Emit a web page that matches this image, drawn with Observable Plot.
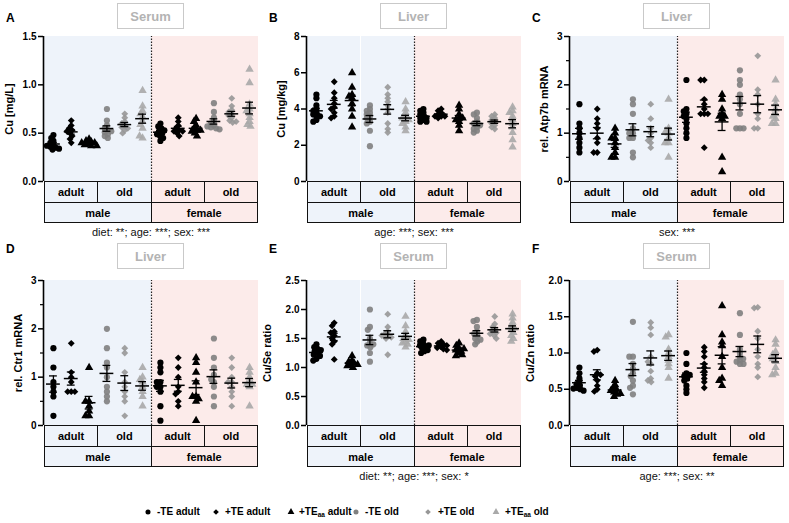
<!DOCTYPE html>
<html><head><meta charset="utf-8">
<script src="https://cdn.jsdelivr.net/npm/d3@7"></script>
<script src="https://cdn.jsdelivr.net/npm/@observablehq/plot@0.6"></script>
<style>
html,body{margin:0;padding:0;background:#fff}
body{width:789px;height:523px;position:relative;overflow:hidden;font-family:"Liberation Sans",Arial,Helvetica,sans-serif;color:#000}
.panel{position:absolute;width:263px;height:244px}
.letter{position:absolute;left:6px;font-weight:bold;font-size:12px;line-height:12px}
.tbox{position:absolute;width:65px;height:24px;border:1.5px solid #c9c9c9;color:#b3b3b3;font-weight:bold;font-size:13px;display:flex;align-items:center;justify-content:center}
.ylab{position:absolute;font-weight:bold;font-size:11px;line-height:12px;white-space:nowrap;transform:translate(-50%,-50%) rotate(-90deg)}
.svgwrap{position:absolute;left:0;top:28px}
table.grp{position:absolute;border-collapse:collapse;table-layout:fixed}
table.grp td{border:1.5px solid #111;text-align:center;font-weight:bold;font-size:11px;padding:0;line-height:12px}
.stats{position:absolute;font-size:11px;line-height:13px;transform:translateX(-50%);white-space:nowrap;color:#111}
.leg{position:absolute;top:506px;font-weight:bold;font-size:10px;line-height:12px;white-space:nowrap}
.leg sub{font-size:6.5px;line-height:0;vertical-align:-2px}
.legm{position:absolute;top:507px}
</style></head>
<body>
<script>
// ---------- categories ----------
const diets = ["-TE", "+TE", "+TEaa"];
const ages = ["adult", "old"];
const sexes = ["male", "female"];
const dietSymbols = ["circle", "diamond2", "triangle"];
const adultColor = "#000000";
const oldColors = ["#808080", "#979797", "#a9a9a9"];
const maleFill = "#eef3fa";
const femaleFill = "#fcebea";

// group order: male adult (-TE,+TE,+TEaa), male old, female adult, female old
// ---------- values ----------
const serumCu = [
  [0.48,0.45,0.42,0.40,0.38,0.36,0.35,0.34,0.33,0.37],
  [0.63,0.58,0.55,0.53,0.52,0.50,0.47,0.44,0.40],
  [0.44,0.42,0.41,0.40,0.39,0.38,0.37,0.37,0.40],
  [0.75,0.63,0.58,0.55,0.53,0.51,0.49,0.47,0.45,0.52],
  [0.70,0.66,0.62,0.60,0.58,0.56,0.53,0.50,0.55],
  [0.94,0.78,0.73,0.67,0.62,0.59,0.55,0.45,0.47,0.70],
  [0.60,0.57,0.55,0.52,0.50,0.49,0.47,0.45,0.42,0.53],
  [0.66,0.62,0.58,0.55,0.53,0.52,0.50,0.47,0.52],
  [0.65,0.62,0.58,0.55,0.53,0.52,0.50,0.47,0.53],
  [0.81,0.72,0.66,0.62,0.60,0.58,0.56,0.55,0.54,0.57],
  [0.86,0.78,0.74,0.72,0.70,0.68,0.66,0.63,0.61,0.62],
  [1.16,1.02,0.80,0.75,0.70,0.66,0.62,0.59,0.57,0.73]
];
const liverCu = [
  [4.8,4.6,4.2,4.0,3.9,3.8,3.7,3.6,3.4,3.3,3.6],
  [5.5,4.9,4.6,4.3,4.1,4.0,3.8,3.6,3.5],
  [6.0,5.2,4.8,4.6,4.7,4.3,4.0,3.6,3.0],
  [4.2,4.0,3.8,3.6,3.5,3.3,3.2,2.8,1.95,3.7,3.9],
  [5.2,4.8,4.6,4.4,4.2,4.0,3.8,3.2,2.9,2.7],
  [4.4,4.0,3.8,3.6,3.5,3.3,3.2,3.0,2.8,3.4],
  [4.0,3.9,3.8,3.7,3.6,3.5,3.5,3.4,3.3,3.3],
  [4.0,3.9,3.8,3.7,3.6,3.6,3.5,3.6],
  [4.2,4.0,3.7,3.5,3.4,3.3,3.1,2.8,3.5],
  [3.8,3.7,3.5,3.3,3.2,3.0,2.9,2.8,2.7,3.1],
  [3.7,3.6,3.5,3.4,3.3,3.2,3.1,3.0,2.9],
  [4.1,3.9,3.6,3.4,3.2,3.0,2.7,2.3,1.9,3.8]
];
const atp7b = [
  [1.6,1.2,1.1,1.0,0.9,0.8,0.6,0.7],
  [1.5,1.3,1.2,1.1,0.9,0.8,0.6,0.6],
  [1.1,1.0,0.9,0.8,0.7,0.6,0.5,0.5,0.9],
  [1.7,1.6,1.4,1.1,1.0,1.0,0.9,0.6,0.5,0.9],
  [1.6,1.3,1.1,1.0,0.9,0.8,0.7,0.85],
  [1.7,1.1,1.0,0.9,0.8,0.8,0.5,1.05],
  [2.1,1.5,1.4,1.35,1.3,1.2,1.1,1.0,0.9,1.45],
  [2.1,2.1,1.7,1.5,1.4,1.4,1.4,0.7,1.6],
  [1.8,1.7,1.5,1.4,1.35,1.3,0.5,0.2,1.35],
  [2.3,2.1,1.8,1.6,1.4,1.1,1.1,1.1,2.0,1.7],
  [2.6,1.9,1.8,1.6,1.3,1.1,1.1,1.4],
  [2.1,1.7,1.6,1.5,1.4,1.3,1.2,1.2,1.35]
];
const ctr1 = [
  [1.6,1.2,0.9,0.8,0.7,0.6,0.2],
  [1.7,1.1,1.0,0.9,0.7,0.7,0.7],
  [1.2,0.5,0.4,0.3,0.2,0.2,0.5],
  [2.0,1.6,1.3,1.2,1.0,0.8,0.7,0.5,0.6],
  [1.6,1.5,1.1,0.9,0.8,0.7,0.6,0.5,0.2],
  [1.2,1.0,0.95,0.9,0.8,0.7,0.6,0.4],
  [1.3,1.2,0.9,0.9,0.8,0.8,0.7,0.4,0.1,1.1],
  [1.4,1.2,1.0,0.8,0.7,0.5,0.4,0.65],
  [1.4,1.3,1.1,0.9,0.6,0.6,0.5,0.1,0.55],
  [1.8,1.4,1.2,1.05,0.9,0.8,0.6,0.4,0.95],
  [1.4,1.2,1.0,0.9,0.8,0.7,0.6,0.4,0.9],
  [1.2,1.1,1.0,0.9,0.85,0.8,0.4,0.85]
];
const cuSeRatio = [
  [1.40,1.35,1.32,1.28,1.25,1.22,1.20,1.15,1.12,1.30],
  [1.77,1.72,1.62,1.55,1.50,1.45,1.40,1.14,1.60],
  [1.20,1.12,1.10,1.07,1.05,1.03,1.00,1.05],
  [2.00,1.70,1.65,1.50,1.42,1.38,1.35,1.25,1.10,1.40],
  [1.92,1.70,1.62,1.58,1.55,1.52,1.50,1.22,1.55],
  [1.88,1.72,1.62,1.55,1.50,1.45,1.42,1.40,1.35,1.48],
  [1.48,1.45,1.40,1.38,1.35,1.33,1.30,1.28,1.25,1.38],
  [1.45,1.42,1.40,1.38,1.36,1.34,1.32,1.30],
  [1.42,1.38,1.33,1.30,1.28,1.25,1.22,1.20,1.32],
  [1.82,1.80,1.70,1.62,1.58,1.55,1.50,1.45,1.40,1.48],
  [1.88,1.75,1.70,1.66,1.63,1.60,1.58,1.55,1.50],
  [1.92,1.85,1.78,1.72,1.68,1.65,1.60,1.55,1.50,1.45]
];
const cuZnRatio = [
  [0.80,0.72,0.65,0.60,0.57,0.55,0.52,0.50,0.48,0.51],
  [1.04,1.02,0.72,0.68,0.62,0.55,0.50,0.47,0.70],
  [0.62,0.56,0.52,0.50,0.48,0.46,0.43,0.40,0.44],
  [1.43,0.95,0.85,0.78,0.72,0.68,0.62,0.55,0.52,0.43,0.95],
  [1.42,1.35,1.25,0.95,0.85,0.75,0.65,0.62,0.60,0.88],
  [1.25,1.22,1.05,1.00,0.95,0.90,0.80,0.65,0.85],
  [1.00,0.85,0.72,0.68,0.65,0.62,0.55,0.50,0.45,0.70],
  [1.08,1.02,0.95,0.85,0.80,0.75,0.70,0.60,0.52,0.65],
  [1.65,1.25,1.15,1.10,0.95,0.80,0.65,0.62,0.55],
  [1.55,1.25,1.05,1.00,0.95,0.90,0.88,0.85,0.85,0.92],
  [1.63,1.62,1.30,1.20,1.05,0.95,0.85,0.80,0.67],
  [1.18,1.12,1.02,0.95,0.92,0.88,0.80,0.72,0.70,0.98]
];

// ---------- tick labels ----------
const ticksA = [0, 0.5, 1, 1.5];
const ticksB = [0, 2, 4, 6, 8];
const ticksCD = [0, 1, 2, 3];
const minorCD = [0.5, 1.5, 2.5];
const ticksE = [0, 0.5, 1, 1.5, 2, 2.5];
const ticksF = [0, 0.5, 1, 1.5, 2];

const panels = [
  {letter: "A", title: "Serum", ylabel: "Cu [mg/L]", values: serumCu, domain: [0, 1.5], ticks: ticksA, minor: [], fmt: ".1f", stats: "diet: **; age: ***; sex: ***", left: 0, top: 0, ylabX: 9},
  {letter: "B", title: "Liver", ylabel: "Cu [mg/kg]", values: liverCu, domain: [0, 8], ticks: ticksB, minor: [], fmt: "d", stats: "age: ***; sex: ***", left: 263, top: 0, ylabX: 18},
  {letter: "C", title: "Liver", ylabel: "rel. Atp7b mRNA", values: atp7b, domain: [0, 3], ticks: ticksCD, minor: minorCD, fmt: "d", stats: "sex: ***", left: 526, top: 0, ylabX: 18},
  {letter: "D", title: "Liver", ylabel: "rel. Ctr1 mRNA", values: ctr1, domain: [0, 3], ticks: ticksCD, minor: minorCD, fmt: "d", stats: "", left: 0, top: 244, ylabX: 18},
  {letter: "E", title: "Serum", ylabel: "Cu/Se ratio", values: cuSeRatio, domain: [0, 2.5], ticks: ticksE, minor: [], fmt: ".1f", stats: "diet: **; age: ***; sex: *", left: 263, top: 244, ylabX: 4},
  {letter: "F", title: "Serum", ylabel: "Cu/Zn ratio", values: cuZnRatio, domain: [0, 2], ticks: ticksF, minor: [], fmt: ".1f", stats: "age: ***; sex: **", left: 526, top: 244, ylabX: 4}
];

const groups = [];
sexes.forEach(sex => ages.forEach(age => diets.forEach((diet, di) => groups.push({
  key: `${sex} ${age} ${diet}`, sex, age, diet,
  col: age === "adult" ? adultColor : oldColors[di]
}))));
const groupKeys = groups.map(g => g.key);
const firstFemale = groups.find(g => g.sex === "female");

const FONT = '"Liberation Sans", Arial, Helvetica, sans-serif';
const SVG_W = 262, ML = 44, MR = 4, MT = 8, PH = 145, MB = 1;

function el(tag, cls, parent, html) {
  const e = document.createElement(tag);
  if (cls) e.className = cls;
  if (html != null) e.innerHTML = html;
  if (parent) parent.appendChild(e);
  return e;
}

panels.forEach((cfg) => {
  const row2 = cfg.top > 0;
  const wrap = el("div", "panel", document.body);
  wrap.style.left = cfg.left + "px";
  wrap.style.top = cfg.top + "px";

  const plotCenter = ML + (SVG_W - ML - MR) / 2;

  const letter = el("div", "letter", wrap, cfg.letter);
  letter.style.top = (row2 ? -1 : 12) + "px";

  const tbox = el("div", "tbox", wrap, cfg.title);
  tbox.style.left = (plotCenter - 34) + "px";
  tbox.style.top = (row2 ? -1 : 3) + "px";

  const yl = el("div", "ylab", wrap, cfg.ylabel);
  yl.style.left = cfg.ylabX + "px";
  yl.style.top = (28 + MT + PH / 2) + "px";

  const rows = [];
  groups.forEach((g, i) => cfg.values[i].forEach(v => rows.push({...g, value: v})));
  const stats = groups.map((g, i) => {
    const vals = cfg.values[i];
    const m = d3.mean(vals);
    const se = d3.deviation(vals) / Math.sqrt(vals.length);
    return {...g, mean: m, lo: m - se, hi: m + se};
  });
  const [y0, y1] = cfg.domain;

  const marks = [
    Plot.rect(groups.filter(g => g.sex === "male"), {fx: "key", x1: 0, x2: 1, y1: y0, y2: y1, fill: maleFill, shapeRendering: "crispEdges"}),
    Plot.rect(groups.filter(g => g.sex === "female"), {fx: "key", x1: 0, x2: 1, y1: y0, y2: y1, fill: femaleFill, shapeRendering: "crispEdges"}),
    Plot.ruleX([firstFemale], {fx: "key", x: 0, y1: y0, y2: y1, stroke: "#222", strokeWidth: 1.2, strokeDasharray: "1.5,1.5"}),
    Plot.ruleX([groups[0]], {fx: "key", x: 0, y1: y0, y2: y1, stroke: "#000", strokeWidth: 1.6, dx: -1}),
    Plot.axisY({ticks: cfg.ticks, tickFormat: d3.format(cfg.fmt), tickSize: 5, tickPadding: 2, fontSize: 10, fontWeight: "bold", strokeWidth: 1.5, label: null, dx: -1, fill: "#000"})
  ];
  if (cfg.minor.length) {
    marks.push(Plot.axisY({ticks: cfg.minor, tickFormat: () => "", tickSize: 3, strokeWidth: 1.2, label: null, dx: -1}));
  }
  marks.push(
    Plot.dot(rows, Plot.dodgeX({anchor: "middle", r: 1.8, padding: 0}, {fx: "key", y: "value", symbol: "diet", fill: "col", fillOpacity: d => d.age === "old" ? 0.9 : 1, r: 3.1, stroke: "none"})),
    Plot.ruleX(stats, {fx: "key", x: 0.5, y1: "lo", y2: "hi", stroke: "#000", strokeWidth: 1.3}),
    Plot.tickY(stats, {fx: "key", y: "mean", insetLeft: 2, insetRight: 2, stroke: "#000", strokeWidth: 1.5}),
    Plot.tickY(stats, {fx: "key", y: "lo", insetLeft: 5, insetRight: 5, stroke: "#000", strokeWidth: 1.3}),
    Plot.tickY(stats, {fx: "key", y: "hi", insetLeft: 5, insetRight: 5, stroke: "#000", strokeWidth: 1.3})
  );

  const chart = Plot.plot({
    width: SVG_W,
    height: MT + PH + MB,
    marginLeft: ML, marginRight: MR, marginTop: MT, marginBottom: MB,
    fx: {domain: groupKeys, padding: 0, round: false, axis: null, label: null},
    x: {domain: [0, 1], axis: null},
    y: {domain: cfg.domain, axis: null},
    color: {type: "identity"},
    opacity: {type: "identity"},
    symbol: {domain: diets, range: dietSymbols},
    style: {fontFamily: FONT, background: "transparent", overflow: "visible", color: "#000"},
    marks
  });
  const sw = el("div", "svgwrap", wrap);
  sw.appendChild(chart);

  // group table under the plot
  const tbl = el("table", "grp", wrap);
  tbl.style.left = ML + "px";
  tbl.style.top = (28 + MT + PH) + "px";
  tbl.style.width = (SVG_W - ML - MR) + "px";
  const tr1 = el("tr", null, tbl);
  tr1.style.height = "21px";
  sexes.forEach(sex => ages.forEach(age => {
    const td = el("td", null, tr1, age);
    td.style.background = sex === "male" ? maleFill : femaleFill;
    td.style.width = "25%";
  }));
  const tr2 = el("tr", null, tbl);
  tr2.style.height = "20px";
  sexes.forEach(sex => {
    const td = el("td", null, tr2, sex);
    td.colSpan = 2;
    td.style.background = sex === "male" ? maleFill : femaleFill;
  });

  if (cfg.stats) {
    const st = el("div", "stats", wrap, cfg.stats);
    st.style.left = plotCenter + "px";
    st.style.top = "226px";
  }
});

// ---------- legend ----------
const legendItems = [
  {diet: 0, age: "adult", label: "-TE adult", mx: 148, tx: 157},
  {diet: 1, age: "adult", label: "+TE adult", mx: 216, tx: 225},
  {diet: 2, age: "adult", label: "+TE<sub>aa</sub> adult", mx: 291, tx: 299},
  {diet: 0, age: "old", label: "-TE old", mx: 356, tx: 365},
  {diet: 1, age: "old", label: "+TE old", mx: 428, tx: 438},
  {diet: 2, age: "old", label: "+TE<sub>aa</sub> old", mx: 496, tx: 505}
];
const d3Symbols = [d3.symbolCircle, d3.symbolDiamond2, d3.symbolTriangle];
legendItems.forEach(it => {
  const svg = d3.select(document.body).append("svg")
    .attr("class", "legm").attr("width", 10).attr("height", 10)
    .style("left", (it.mx - 5) + "px");
  svg.append("path")
    .attr("transform", "translate(5,5)")
    .attr("d", d3.symbol(d3Symbols[it.diet], 20)())
    .attr("fill", it.age === "adult" ? adultColor : oldColors[it.diet]);
  const t = el("div", "leg", document.body, it.label);
  t.style.left = it.tx + "px";
});
</script>
</body></html>
